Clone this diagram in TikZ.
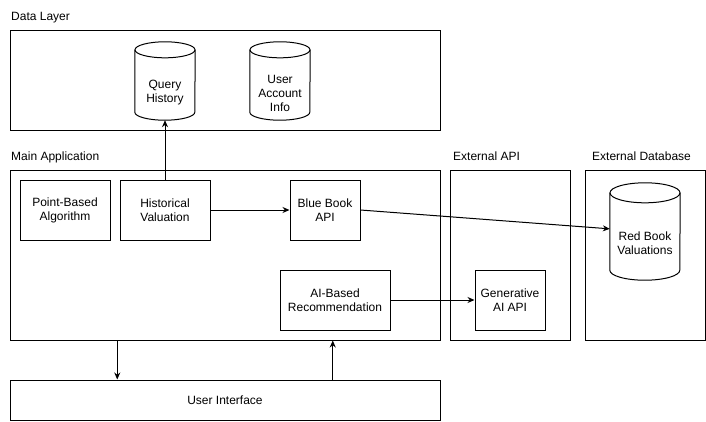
\documentclass[tikz,border=0pt]{standalone}
\usepackage{fontspec}
\setmainfont{Liberation Sans}
\usetikzlibrary{arrows.meta}
\usetikzlibrary{calc}

\tikzset{
  frame/.style={draw, line width=1pt, inner sep=0pt},
  block/.style={draw, line width=1pt, align=center, inner sep=0pt, minimum height=60},
  dbbox/.style={inner sep=0pt},
  dbtext/.style={align=center, inner sep=0pt, yshift=-12pt},
  title/.style={anchor=base west, inner sep=0pt},
  link/.style={line width=1pt, -{Stealth[length=7pt, width=6pt]}}
}

\begin{document}
\begin{tikzpicture}[x=1pt, y=-1pt, font=\fontsize{12}{14}\selectfont]
  \useasboundingbox (0,0) rectangle (706,421);

  % layers
  \foreach \name/\cx/\cy/\w/\h in {dl/225/80/430/100, app/225/255/430/170, ext/510/255/120/170, edb/645/255/120/170}
    \node[frame, minimum width=\w, minimum height=\h] (\name) at (\cx,\cy) {};
  \node[frame, minimum width=430, minimum height=40] (ui) at (225,400) {User Interface};

  \node[title] at (11,20) {Data Layer};
  \node[title] at (11,160) {Main Application};
  \node[title] at (453,160) {External API};
  \node[title] at (592,160) {External Database};

  % data stores
  \node[dbbox, minimum width=60, minimum height=78, label={[dbtext]center:Query\\History}] (qh) at (165,81) {};
  \node[dbbox, minimum width=60, minimum height=78, label={[dbtext]center:User\\Account\\Info}] (uai) at (280,81) {};
  \node[dbbox, minimum width=70, minimum height=97, label={[dbtext]center:Red Book\\Valuations}] (rb) at (645,231.5) {};

  \foreach \n/\rx/\ry in {qh/30/8, uai/30/8, rb/35/10} {
    \draw[line width=1pt] ([yshift=-\ry pt]\n.north) ellipse [x radius=\rx pt, y radius=\ry pt];
    \draw[line width=1pt] ([yshift=-\ry pt]\n.north west) -- ([yshift=\ry pt]\n.south west)
      arc [start angle=180, end angle=360, x radius=\rx pt, y radius=\ry pt] -- ([yshift=-\ry pt]\n.north east);
  }

  % components
  \node[block, minimum width=90] (pba) at (65,210) {Point-Based\\Algorithm};
  \node[block, minimum width=90] (hv) at (165,210) {Historical\\Valuation};
  \node[block, minimum width=70] (bb) at (325,210) {Blue Book\\API};
  \node[block, minimum width=110] (ai) at (335,300) {AI-Based\\Recommendation};
  \node[block, minimum width=70] (gai) at (510,300) {Generative\\AI API};

  % lines
  \draw[link] (hv.north) -- (qh.south);
  \draw[link] (hv.east) -- (bb.west);
  \draw[link] (bb.east) -- (rb);
  \draw[link] (ai.east) -- (gai.west);
  \draw[link] ($(app.south west)!0.25!(app.south east)$) -- ($(ui.north west)!0.25!(ui.north east)$);
  \draw[link] ($(ui.north west)!0.75!(ui.north east)$) -- ($(app.south west)!0.75!(app.south east)$);

\end{tikzpicture}
\end{document}
